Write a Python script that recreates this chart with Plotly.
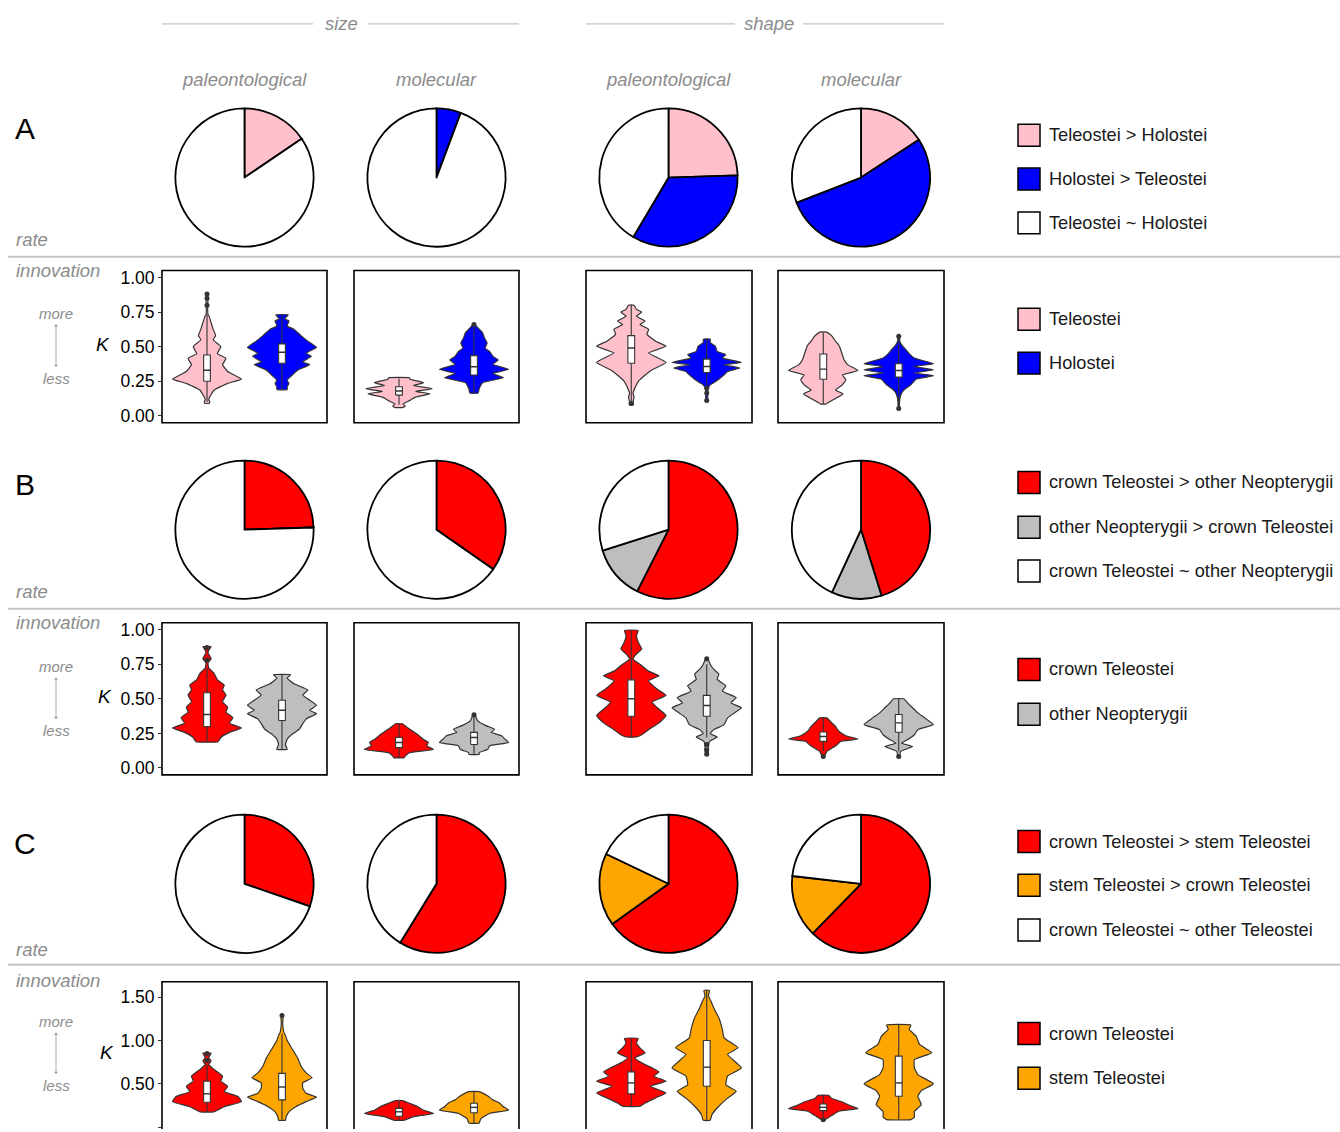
import plotly.graph_objects as go

W, H = 1340, 1132
FONT = "Liberation Sans, Arial, Helvetica, sans-serif"
GRAY_TXT = "#8c8c8c"
GRAY_LINE = "#c4c4c4"
EDGE = "#333333"

# ---------------- data ----------------
panel_names = ["size paleontological", "size molecular", "shape paleontological", "shape molecular"]

# pie chart shares (%), order: [first > second, second > first, ~]
A_pie_labels = ["Teleostei > Holostei", "Holostei > Teleostei", "Teleostei ~ Holostei"]
A_pie_colors = ["#FFC0CB", "#0000FF", "#FFFFFF"]
A_pie_values = [[15.5, 0, 84.5], [0, 5.7, 94.3], [24.5, 34.0, 41.5], [15.8, 53.3, 30.9]]

B_pie_labels = ["crown Teleostei > other Neopterygii", "other Neopterygii > crown Teleostei",
                "crown Teleostei ~ other Neopterygii"]
B_pie_colors = ["#FF0000", "#BEBEBE", "#FFFFFF"]
B_pie_values = [[24.5, 0, 75.5], [34.7, 0, 65.3], [57.5, 12.6, 29.9], [45.2, 11.7, 43.1]]

C_pie_labels = ["crown Teleostei > stem Teleostei", "stem Teleostei > crown Teleostei",
                "crown Teleostei ~ other Teleostei"]
C_pie_colors = ["#FF0000", "#FFA500", "#FFFFFF"]
C_pie_values = [[30.3, 0, 69.7], [58.8, 0, 41.2], [65.1, 17.0, 17.9], [62.3, 14.5, 23.2]]

# violin groups
A_groups = ["Teleostei", "Holostei"]
A_group_colors = ["#FFC0CB", "#0000FF"]
B_groups = ["crown Teleostei", "other Neopterygii"]
B_group_colors = ["#FF0000", "#BEBEBE"]
C_groups = ["crown Teleostei", "stem Teleostei"]
C_group_colors = ["#FF0000", "#FFA500"]

# violin density profiles: K levels and relative density (0-100), per panel, per group
A_violin_K = [
    [[0.89, 0.85, 0.80, 0.73, 0.72, 0.625, 0.58, 0.55, 0.50, 0.45, 0.415, 0.37, 0.32, 0.265, 0.235, 0.185, 0.12, 0.10, 0.09],
     [0.73, 0.70, 0.686, 0.65, 0.625, 0.58, 0.54, 0.495, 0.453, 0.43, 0.39, 0.37, 0.33, 0.295, 0.257, 0.233, 0.21, 0.19]],
    [[0.275, 0.265, 0.24, 0.22, 0.196, 0.176, 0.16, 0.135, 0.11, 0.086, 0.07, 0.06],
     [0.66, 0.64, 0.60, 0.564, 0.527, 0.49, 0.466, 0.43, 0.404, 0.372, 0.336, 0.306, 0.275, 0.24, 0.196, 0.165]],
    [[0.80, 0.77, 0.75, 0.72, 0.685, 0.66, 0.625, 0.59, 0.54, 0.503, 0.455, 0.386, 0.333, 0.284, 0.248, 0.21, 0.163, 0.138, 0.10, 0.08],
     [0.555, 0.53, 0.503, 0.466, 0.442, 0.418, 0.386, 0.37, 0.345, 0.32, 0.296, 0.265, 0.24, 0.224, 0.19, 0.16, 0.12, 0.11]],
    [[0.605, 0.576, 0.54, 0.51, 0.48, 0.442, 0.405, 0.37, 0.328, 0.296, 0.26, 0.224, 0.187, 0.158, 0.126, 0.09, 0.085],
     [0.576, 0.54, 0.508, 0.48, 0.45, 0.418, 0.377, 0.357, 0.333, 0.309, 0.29, 0.265, 0.224, 0.187, 0.163, 0.12, 0.08, 0.053]],
]
A_violin_D = [
    [[2, 3, 2, 3, 6, 18, 25, 18, 40, 30, 55, 45, 60, 100, 60, 20, 5, 8, 6],
     [18, 8, 20, 15, 35, 55, 75, 100, 70, 85, 60, 80, 45, 30, 15, 20, 15, 15]],
    [[30, 32, 72, 42, 96, 48, 90, 48, 30, 12, 18, 10],
     [3, 10, 25, 30, 38, 32, 45, 55, 70, 55, 100, 55, 85, 25, 15, 12]],
    [[8, 15, 30, 15, 40, 25, 50, 45, 70, 100, 50, 100, 60, 35, 20, 12, 5, 8, 5, 6],
     [10, 10, 25, 30, 55, 45, 100, 50, 95, 60, 50, 35, 20, 10, 3, 3, 3, 5]],
    [[10, 25, 35, 45, 50, 55, 60, 70, 100, 55, 65, 55, 35, 57, 35, 10, 8],
     [2, 3, 10, 20, 30, 45, 100, 45, 100, 45, 100, 50, 35, 15, 8, 3, 2, 2]],
]
# box stats: [lower whisker, q1, median, q3, upper whisker]
A_box = [
    [[0.10, 0.25, 0.33, 0.44, 0.73], [0.19, 0.38, 0.46, 0.52, 0.73]],
    [[0.08, 0.15, 0.18, 0.21, 0.27], [0.165, 0.295, 0.355, 0.435, 0.65]],
    [[0.08, 0.38, 0.49, 0.58, 0.80], [0.22, 0.313, 0.357, 0.41, 0.555]],
    [[0.085, 0.265, 0.338, 0.447, 0.60], [0.053, 0.28, 0.328, 0.377, 0.576]],
]
A_outliers = [
    [[0.80, 0.85, 0.88], []],
    [[], [0.66]],
    [[0.09], [0.20, 0.165, 0.11]],
    [[], [0.576, 0.053]],
]

B_violin_K = [
    [[0.877, 0.855, 0.833, 0.79, 0.76, 0.723, 0.686, 0.637, 0.60, 0.564, 0.527, 0.478, 0.44, 0.404, 0.363, 0.323, 0.289, 0.257, 0.22, 0.19],
     [0.674, 0.65, 0.608, 0.564, 0.527, 0.49, 0.453, 0.417, 0.392, 0.355, 0.32, 0.28, 0.245, 0.208, 0.17, 0.135]],
    [[0.32, 0.29, 0.265, 0.24, 0.208, 0.184, 0.16, 0.135, 0.11, 0.086, 0.074],
     [0.385, 0.343, 0.306, 0.28, 0.257, 0.233, 0.208, 0.184, 0.16, 0.135, 0.11, 0.098]],
    [[0.994, 0.957, 0.909, 0.86, 0.824, 0.787, 0.75, 0.70, 0.666, 0.63, 0.569, 0.525, 0.476, 0.435, 0.379, 0.326, 0.277, 0.24, 0.224],
     [0.79, 0.75, 0.714, 0.678, 0.641, 0.593, 0.556, 0.508, 0.471, 0.435, 0.398, 0.362, 0.313, 0.277, 0.248, 0.224, 0.192, 0.155, 0.10]],
    [[0.362, 0.338, 0.30, 0.265, 0.233, 0.209, 0.192, 0.168, 0.143, 0.119, 0.083],
     [0.50, 0.471, 0.435, 0.398, 0.362, 0.313, 0.277, 0.24, 0.204, 0.18, 0.155, 0.119, 0.083]],
]
B_violin_D = [
    [[12, 6, 3, 12, 3, 5, 20, 30, 50, 45, 55, 45, 60, 55, 75, 65, 100, 65, 40, 32],
     [25, 15, 35, 75, 60, 80, 100, 80, 100, 70, 60, 50, 30, 15, 10, 15]],
    [[10, 25, 40, 55, 70, 85, 80, 100, 30, 18, 15],
     [3, 10, 35, 60, 50, 80, 90, 100, 45, 40, 15, 15]],
    [[20, 15, 20, 30, 15, 5, 25, 50, 80, 50, 75, 100, 60, 75, 100, 80, 50, 30, 15],
     [3, 10, 20, 35, 30, 55, 45, 85, 70, 100, 80, 60, 50, 20, 10, 30, 8, 5, 4]],
    [[10, 20, 35, 45, 65, 100, 50, 40, 25, 10, 3],
     [15, 25, 40, 55, 75, 100, 55, 45, 25, 8, 40, 5, 3]],
]
B_box = [
    [[0.19, 0.30, 0.387, 0.544, 0.72], [0.135, 0.343, 0.417, 0.49, 0.674]],
    [[0.074, 0.147, 0.184, 0.22, 0.32], [0.098, 0.17, 0.22, 0.257, 0.385]],
    [[0.224, 0.374, 0.50, 0.637, 0.994], [0.22, 0.374, 0.452, 0.525, 0.75]],
    [[0.12, 0.192, 0.228, 0.26, 0.36], [0.12, 0.258, 0.326, 0.386, 0.50]],
]
B_outliers = [
    [[0.78, 0.87], []],
    [[], [0.385]],
    [[], [0.79, 0.17, 0.13, 0.10]],
    [[0.083], [0.083]],
]

C_violin_K = [
    [[0.855, 0.80, 0.765, 0.725, 0.667, 0.588, 0.53, 0.47, 0.41, 0.353, 0.294, 0.235, 0.176],
     [1.29, 1.2, 1.10, 1.06, 1.0, 0.90, 0.80, 0.706, 0.627, 0.57, 0.51, 0.45, 0.39, 0.345, 0.294, 0.235, 0.176, 0.118, 0.078]],
    [[0.306, 0.275, 0.235, 0.196, 0.157, 0.118, 0.078],
     [0.41, 0.36, 0.314, 0.275, 0.235, 0.196, 0.157, 0.098, 0.047]],
    [[1.025, 0.975, 0.916, 0.858, 0.80, 0.742, 0.684, 0.638, 0.588, 0.53, 0.472, 0.394, 0.336, 0.278, 0.24],
     [1.58, 1.516, 1.458, 1.38, 1.264, 1.13, 1.032, 0.916, 0.84, 0.684, 0.588, 0.49, 0.414, 0.317, 0.22, 0.143, 0.077]],
    [[0.367, 0.329, 0.29, 0.25, 0.213, 0.182, 0.135, 0.085],
     [1.18, 1.13, 1.052, 0.955, 0.858, 0.78, 0.684, 0.607, 0.499, 0.421, 0.356, 0.259, 0.18, 0.112, 0.085]],
]
C_violin_D = [
    [[12, 5, 12, 5, 20, 45, 40, 60, 50, 90, 100, 50, 20],
     [3, 2, 5, 10, 15, 30, 45, 55, 70, 87, 60, 60, 70, 100, 70, 40, 20, 12, 10]],
    [[10, 30, 55, 70, 100, 40, 15],
     [15, 40, 55, 75, 85, 100, 45, 20, 15]],
    [[20, 15, 25, 40, 10, 30, 60, 80, 65, 100, 55, 100, 70, 40, 25],
     [8, 5, 12, 20, 35, 45, 50, 90, 60, 100, 60, 55, 85, 55, 30, 15, 10]],
    [[15, 25, 55, 75, 100, 45, 25, 5],
     [35, 30, 50, 60, 95, 45, 45, 55, 100, 65, 55, 65, 45, 45, 35]],
]
C_box = [
    [[0.176, 0.286, 0.384, 0.53, 0.72], [0.078, 0.314, 0.463, 0.62, 1.08]],
    [[0.078, 0.125, 0.176, 0.216, 0.306], [0.047, 0.165, 0.227, 0.275, 0.41]],
    [[0.24, 0.383, 0.51, 0.638, 1.025], [0.077, 0.472, 0.692, 1.0, 1.58]],
    [[0.12, 0.19, 0.228, 0.267, 0.367], [0.085, 0.356, 0.51, 0.82, 1.18]],
]
C_outliers = [
    [[0.77, 0.85], [1.29]],
    [[], []],
    [[], []],
    [[0.085], []],
]

AB_ticks = [0.0, 0.25, 0.5, 0.75, 1.0]
C_ticks = [0.0, 0.5, 1.0, 1.5]

# ---------------- layout helpers (pixel geometry) ----------------
def fx(px):
    return px / W

def fy(py):
    return 1 - py / H

fig = go.Figure()
shapes = []
annotations = []

pie_cx = [244.5, 436.5, 668.5, 861]
pie_cy = {"A": 175.5, "B": 529.5, "C": 885.5}
PIE_R = 69.5
panel_x = [(162, 327), (354, 519), (586, 752), (778, 944)]
panel_y = {"A": (269, 422), "B": (623, 776), "C": (984, 1132)}
yranges = {"A": [-0.05, 1.05], "B": [-0.05, 1.05], "C": [-0.023, 1.68]}

rows = {
    "A": (A_pie_values, A_pie_colors, A_violin_K, A_violin_D, A_box, A_outliers, A_group_colors, AB_ticks),
    "B": (B_pie_values, B_pie_colors, B_violin_K, B_violin_D, B_box, B_outliers, B_group_colors, AB_ticks),
    "C": (C_pie_values, C_pie_colors, C_violin_K, C_violin_D, C_box, C_outliers, C_group_colors, C_ticks),
}

HW = 0.46 / 100.0   # half-width per density unit (x units)
BOXW = 0.045
ax_i = 0
for rname, (pvals, pcols, vK, vD, vbox, vout, gcols, ticks) in rows.items():
    # pies
    for j in range(4):
        cx, cy = pie_cx[j], pie_cy[rname]
        fig.add_trace(go.Pie(
            values=pvals[j], marker=dict(colors=pcols, line=dict(color="black", width=1.8)),
            sort=False, direction="clockwise", rotation=0, textinfo="none",
            hoverinfo="skip", showlegend=False,
            domain=dict(x=[fx(cx - PIE_R), fx(cx + PIE_R)], y=[fy(cy + PIE_R), fy(cy - PIE_R)])))
    # violin panels
    for j in range(4):
        ax_i += 1
        xa = "x" if ax_i == 1 else f"x{ax_i}"
        ya = "y" if ax_i == 1 else f"y{ax_i}"
        for g in range(2):
            c = g + 1
            K = vK[j][g]
            D = vD[j][g]
            xs = [c + d * HW for d in D] + [c - d * HW for d in reversed(D)] + [c + D[0] * HW]
            ys = list(K) + list(reversed(K)) + [K[0]]
            fig.add_trace(go.Scatter(x=xs, y=ys, mode="lines", fill="toself", fillcolor=gcols[g],
                                     line=dict(color=EDGE, width=1.2, shape="spline", smoothing=0.35),
                                     xaxis=xa, yaxis=ya, hoverinfo="skip", showlegend=False))
            lw, q1, med, q3, uw = vbox[j][g]
            fig.add_trace(go.Scatter(x=[c, c, None, c, c], y=[uw, q3, None, q1, lw], mode="lines",
                                     line=dict(color=EDGE, width=1.1), xaxis=xa, yaxis=ya,
                                     hoverinfo="skip", showlegend=False))
            fig.add_trace(go.Scatter(x=[c - BOXW, c + BOXW, c + BOXW, c - BOXW, c - BOXW],
                                     y=[q1, q1, q3, q3, q1], mode="lines", fill="toself",
                                     fillcolor="white", line=dict(color=EDGE, width=1.1),
                                     xaxis=xa, yaxis=ya, hoverinfo="skip", showlegend=False))
            fig.add_trace(go.Scatter(x=[c - BOXW, c + BOXW], y=[med, med], mode="lines",
                                     line=dict(color=EDGE, width=1.4), xaxis=xa, yaxis=ya,
                                     hoverinfo="skip", showlegend=False))
            if vout[j][g]:
                fig.add_trace(go.Scatter(x=[c] * len(vout[j][g]), y=vout[j][g], mode="markers",
                                         marker=dict(color=EDGE, size=5), xaxis=xa, yaxis=ya,
                                         hoverinfo="skip", showlegend=False))
        x0, x1 = panel_x[j]
        y0, y1 = panel_y[rname]
        xkey = "xaxis" if ax_i == 1 else f"xaxis{ax_i}"
        ykey = "yaxis" if ax_i == 1 else f"yaxis{ax_i}"
        fig.layout[xkey] = dict(domain=[fx(x0), fx(x1)], range=[0.4, 2.6], anchor=ya,
                                showticklabels=False, ticks="", showgrid=False, zeroline=False,
                                showline=False, fixedrange=True)
        first = (j == 0)
        fig.layout[ykey] = dict(domain=[fy(y1), fy(y0)], range=yranges[rname], anchor=xa,
                                showgrid=False, zeroline=False, showline=False, fixedrange=True,
                                tickmode="array", tickvals=ticks if first else [],
                                ticktext=[f"{t:.2f}" for t in ticks] if first else [],
                                ticks="outside" if first else "", ticklen=3, tickwidth=1,
                                tickcolor=EDGE, showticklabels=first,
                                tickfont=dict(family=FONT, size=17.5, color="black"))
        # panel frame (row C runs off the bottom of the canvas, so no bottom edge there)
        if rname == "C":
            shapes.append(dict(type="path", xref="paper", yref="paper",
                               path=f"M{fx(x0)},{fy(y1)} L{fx(x0)},{fy(y0)} L{fx(x1)},{fy(y0)} L{fx(x1)},{fy(y1)}",
                               line=dict(color="black", width=1.6)))
        else:
            shapes.append(dict(type="rect", xref="paper", yref="paper",
                               x0=fx(x0), x1=fx(x1), y0=fy(y1), y1=fy(y0),
                               line=dict(color="black", width=1.6), fillcolor="rgba(0,0,0,0)"))

# ---------------- header texts ----------------
def text(x, y, s, size, color, xanchor="center", italic=False):
    annotations.append(dict(x=fx(x), y=fy(y), xref="paper", yref="paper",
                            text=f"<i>{s}</i>" if italic else s, showarrow=False,
                            xanchor=xanchor, yanchor="middle",
                            font=dict(family=FONT, size=size, color=color)))

def hline(x0, x1, y, color, width):
    shapes.append(dict(type="line", xref="paper", yref="paper", x0=fx(x0), x1=fx(x1),
                       y0=fy(y), y1=fy(y), line=dict(color=color, width=width)))

text(341, 21, "size", 18.5, GRAY_TXT, italic=True)
text(768.5, 21, "shape", 18.5, GRAY_TXT, italic=True)
hline(162, 313, 21, GRAY_LINE, 1.3)
hline(368, 519, 21, GRAY_LINE, 1.3)
hline(586, 735, 21, GRAY_LINE, 1.3)
hline(803, 944, 21, GRAY_LINE, 1.3)
for cx, lab in zip(pie_cx, ["paleontological", "molecular", "paleontological", "molecular"]):
    text(cx, 77, lab, 18.5, GRAY_TXT, italic=True)

row_letter_y = {"A": 126, "B": 484, "C": 845}
rate_y = {"A": 238, "B": 592, "C": 952}
innov_y = {"A": 269, "B": 623, "C": 983}
more_y = {"A": 312, "B": 667, "C": 1024}
less_y = {"A": 377, "B": 731, "C": 1088}
arrow_y = {"A": (323, 367), "B": (678, 721), "C": (1035, 1078)}
K_pos = {"A": (103, 343), "B": (105, 697), "C": (107, 1055)}
sep_y = [255, 609, 967]

for r in ["A", "B", "C"]:
    text(24.5, row_letter_y[r], r, 30, "black")
    text(14, rate_y[r], "rate", 18.5, GRAY_TXT, xanchor="left", italic=True)
    text(14, innov_y[r], "innovation", 18.5, GRAY_TXT, xanchor="left", italic=True)
    text(56, more_y[r], "more", 15, GRAY_TXT, italic=True)
    text(56, less_y[r], "less", 15, GRAY_TXT, italic=True)
    text(K_pos[r][0], K_pos[r][1], "K", 19, "black", italic=True)
    a0, a1 = arrow_y[r]
    annotations.append(dict(x=fx(56), y=fy(a0), ax=0, ay=a1 - a0, xref="paper", yref="paper",
                            axref="pixel", ayref="pixel", text="", showarrow=True,
                            arrowhead=1, startarrowhead=1, arrowside="end+start",
                            arrowsize=0.9, startarrowsize=0.9, arrowwidth=0.8, arrowcolor="#9a9a9a"))
for y in sep_y:
    hline(8, 1340, y, GRAY_LINE, 2)

# ---------------- legends ----------------
leg_pie_y = {"A": [133, 177, 221], "B": [482, 527, 571], "C": [843, 887, 932]}
leg_vio_y = {"A": [318, 362], "B": [670, 715], "C": [1036, 1081]}
leg_info = {
    "A": (A_pie_labels, A_pie_colors, A_groups, A_group_colors),
    "B": (B_pie_labels, B_pie_colors, B_groups, B_group_colors),
    "C": (C_pie_labels, C_pie_colors, C_groups, C_group_colors),
}

def legend_item(y, label, color):
    shapes.append(dict(type="rect", xref="paper", yref="paper",
                       x0=fx(1018), x1=fx(1040), y0=fy(y + 11), y1=fy(y - 11),
                       fillcolor=color, line=dict(color="black", width=1.5)))
    text(1047, y, label, 18.2, "#1a1a1a", xanchor="left")

for r, (plabs, pcols, glabs, gcols) in leg_info.items():
    for y, lab, col in zip(leg_pie_y[r], plabs, pcols):
        legend_item(y, lab, col)
    for y, lab, col in zip(leg_vio_y[r], glabs, gcols):
        legend_item(y, lab, col)

fig.update_layout(width=W, height=H, margin=dict(l=0, r=0, t=0, b=0),
                  paper_bgcolor="white", plot_bgcolor="rgba(0,0,0,0)",
                  shapes=shapes, annotations=annotations, showlegend=False,
                  font=dict(family=FONT))
fig.write_html("out.html", config={"displayModeBar": False},
               post_script="document.body.style.margin='0px';")
